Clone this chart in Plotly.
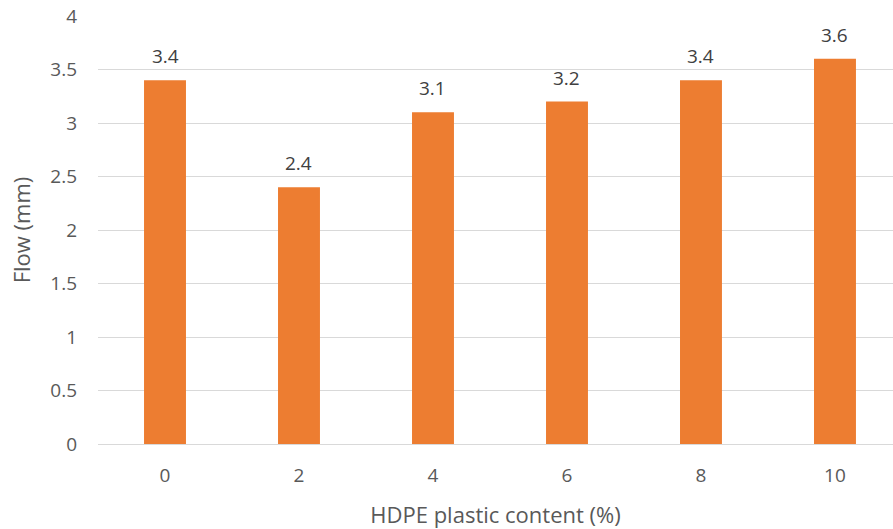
import plotly.graph_objects as go

# HDPE plastic content (%) and measured flow (mm)
categories = ["0", "2", "4", "6", "8", "10"]
flow_values = [3.4, 2.4, 3.1, 3.2, 3.4, 3.6]
y_ticks = [0, 0.5, 1, 1.5, 2, 2.5, 3, 3.5, 4]

positions = list(range(len(categories)))
font_family = "Open Sans, Liberation Sans, sans-serif"

fig = go.Figure()
fig.add_trace(go.Bar(
    x=positions,
    y=flow_values,
    width=0.313,
    marker=dict(color="#ED7D31", line=dict(width=0)),
    hoverinfo="skip",
))

# value labels above each bar
for xp, v in zip(positions, flow_values):
    fig.add_annotation(
        x=xp, y=v, text=f"{v:g}", showarrow=False,
        yanchor="middle", yshift=24,
        font=dict(family=font_family, size=19, color="#404040"),
    )

fig.update_layout(
    width=893, height=529,
    margin=dict(l=98, r=0, t=16, b=85),
    paper_bgcolor="white", plot_bgcolor="white",
    showlegend=False,
    font=dict(family=font_family, color="#595959"),
    xaxis=dict(
        range=[-0.5, 5.433],
        tickmode="array", tickvals=positions, ticktext=categories,
        tickfont=dict(size=19, color="#595959"),
        ticklabelstandoff=18,
        showgrid=False, zeroline=False, showline=False,
        ticks="", ticklen=0,
        title=dict(text="HDPE plastic content (%)", font=dict(size=22, color="#595959"), standoff=20),
    ),
    yaxis=dict(
        range=[0, 4],
        tickmode="array", tickvals=y_ticks, ticktext=[f"{t:g}" for t in y_ticks],
        tickfont=dict(size=19, color="#595959"),
        ticklabelstandoff=20,
        showgrid=True, gridcolor="#D9D9D9", gridwidth=1,
        zeroline=True, zerolinecolor="#D9D9D9", zerolinewidth=1,
        showline=False, ticks="", ticklen=0,
        title=dict(text="Flow (mm)", font=dict(size=22, color="#595959"), standoff=13),
    ),
)

fig.write_html("out.html")
